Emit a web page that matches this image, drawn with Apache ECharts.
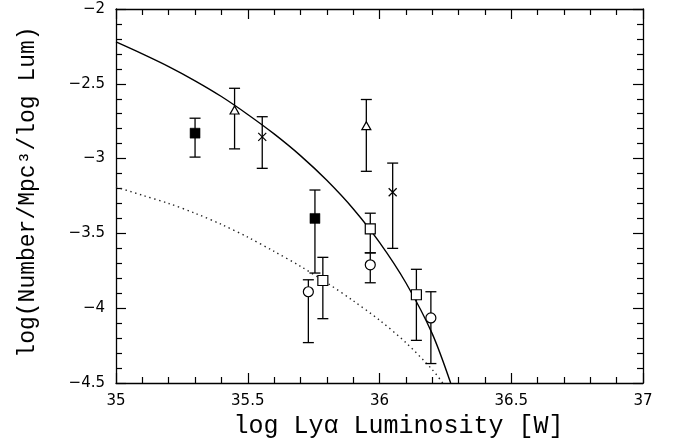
<!DOCTYPE html>
<html>
<head>
<meta charset="utf-8">
<script src="https://cdn.jsdelivr.net/npm/echarts@6/dist/echarts.min.js"></script>
<style>
  html, body { margin: 0; padding: 0; background: #fff; }
  #chart { width: 680px; height: 448px; }
</style>
</head>
<body>
<div id="chart"></div>
<script>
// Measurements: each row is [log L, log phi, upper end of bar, lower end of bar]
const filledSquares = [
  [35.30, -2.83, -2.73, -2.99],
  [35.755, -3.40, -3.21, -3.765]
];
const openTriangles = [
  [35.45, -2.675, -2.53, -2.935],
  [35.95, -2.78, -2.605, -3.085]
];
const crosses = [
  [35.555, -2.855, -2.72, -3.065],
  [36.05, -3.225, -3.03, -3.60]
];
const openSquares = [
  [35.785, -3.815, -3.66, -4.07],
  [35.965, -3.47, -3.365, -3.63],
  [36.14, -3.91, -3.74, -4.215]
];
const openCircles = [
  [35.73, -3.89, -3.81, -4.23],
  [35.965, -3.71, -3.63, -3.83],
  [36.195, -4.065, -3.89, -4.37]
];

// Luminosity function curves: [log L, log phi]
const solidCurve = [
  [35.0, -2.22], [35.1, -2.30], [35.2, -2.385], [35.3, -2.48],
  [35.4, -2.585], [35.5, -2.705], [35.6, -2.835], [35.7, -2.98],
  [35.8, -3.145], [35.9, -3.335], [36.0, -3.56], [36.1, -3.83],
  [36.2, -4.17], [36.27, -4.50]
];
const dottedCurve = [
  [35.0, -3.19], [35.1, -3.245], [35.2, -3.30], [35.3, -3.365],
  [35.4, -3.44], [35.5, -3.525], [35.6, -3.62], [35.7, -3.72],
  [35.8, -3.83], [35.9, -3.95], [36.0, -4.08], [36.1, -4.23],
  [36.2, -4.41], [36.24, -4.50]
];

const xTicks = { min: 35, max: 37, step: 0.5 };
const yTicks = { min: -4.5, max: -2, step: 0.5 };

const INK = '#000';
const TITLE_FONT = '"Liberation Mono", "DejaVu Sans Mono", monospace';
const fmt = v => String(+v.toFixed(2)).replace('-', '\u2212');

function axisCommon(showLabels) {
  return {
    axisLine: { show: true, onZero: false, lineStyle: { color: INK, width: 1.3 } },
    axisTick: { show: true, inside: true, length: 10, lineStyle: { color: INK, width: 1.2 } },
    minorTick: { show: true, splitNumber: 5, length: 6, lineStyle: { color: INK, width: 1.2 } },
    splitLine: { show: false },
    minorSplitLine: { show: false },
    axisLabel: {
      show: showLabels, margin: 11, color: INK,
      fontFamily: 'DejaVu Sans', fontSize: 15,
      showMinLabel: true, showMaxLabel: true,
      formatter: fmt
    }
  };
}

function errorBars(rows) {
  return {
    type: 'custom',
    data: rows,
    z: 2,
    encode: { x: 0, y: [2, 3] },
    renderItem: function (params, api) {
      const x = api.value(0);
      const top = api.coord([x, api.value(2)]);
      const bot = api.coord([x, api.value(3)]);
      const half = 5.5;
      const style = { stroke: INK, lineWidth: 1.3, fill: null };
      return {
        type: 'group',
        children: [
          { type: 'line', shape: { x1: top[0], y1: top[1], x2: bot[0], y2: bot[1] }, style },
          { type: 'line', shape: { x1: top[0] - half, y1: top[1], x2: top[0] + half, y2: top[1] }, style },
          { type: 'line', shape: { x1: bot[0] - half, y1: bot[1], x2: bot[0] + half, y2: bot[1] }, style }
        ]
      };
    }
  };
}

function markers(rows, symbol, size, filled) {
  return {
    type: 'scatter',
    data: rows,
    z: 3,
    encode: { x: 0, y: 1 },
    symbol: symbol,
    symbolSize: size,
    itemStyle: filled
      ? { color: INK, borderColor: INK, borderWidth: 0.5, opacity: 1 }
      : { color: '#fff', borderColor: INK, borderWidth: 1.2, opacity: 1 },
    emphasis: { disabled: true }
  };
}

const chart = echarts.init(document.getElementById('chart'), null, { renderer: 'canvas' });

chart.setOption({
  animation: false,
  backgroundColor: '#fff',
  grid: { left: 116, right: 37, top: 9, bottom: 65 },
  xAxis: [
    Object.assign({
      type: 'value', position: 'bottom',
      min: xTicks.min, max: xTicks.max, interval: xTicks.step,
      name: 'log Ly\u03B1 Luminosity [W]',
      nameLocation: 'middle', nameGap: 31,
      nameTextStyle: { fontFamily: TITLE_FONT, fontSize: 25, color: INK, padding: [0, 0, 0, 38] }
    }, axisCommon(true)),
    Object.assign({
      type: 'value', position: 'top',
      min: xTicks.min, max: xTicks.max, interval: xTicks.step
    }, axisCommon(false))
  ],
  yAxis: [
    Object.assign({
      type: 'value', position: 'left',
      min: yTicks.min, max: yTicks.max, interval: yTicks.step,
      name: 'log(Number/Mpc\u00B3/log Lum)',
      nameLocation: 'middle', nameGap: 77,
      nameTextStyle: { fontFamily: TITLE_FONT, fontSize: 23, color: INK, padding: [0, 0, 0, 8] }
    }, axisCommon(true)),
    Object.assign({
      type: 'value', position: 'right',
      min: yTicks.min, max: yTicks.max, interval: yTicks.step
    }, axisCommon(false))
  ],
  series: [
    {
      type: 'line', data: solidCurve, smooth: 0.3, showSymbol: false, z: 1,
      lineStyle: { color: INK, width: 1.4 }, emphasis: { disabled: true }
    },
    {
      type: 'line', data: dottedCurve, smooth: 0.3, showSymbol: false, z: 1,
      lineStyle: { color: '#222', width: 1.4, type: [1.4, 3.6] }, emphasis: { disabled: true }
    },
    errorBars(filledSquares),
    errorBars(openTriangles),
    errorBars(crosses),
    errorBars(openSquares),
    errorBars(openCircles),
    markers(filledSquares, 'rect', 10, true),
    markers(openTriangles, 'triangle', [9, 8], false),
    markers(crosses, 'path://M0,0L10,10M10,0L0,10', 8, false),
    markers(openSquares, 'rect', 10, false),
    markers(openCircles, 'circle', 10, false)
  ]
});
</script>
</body>
</html>
